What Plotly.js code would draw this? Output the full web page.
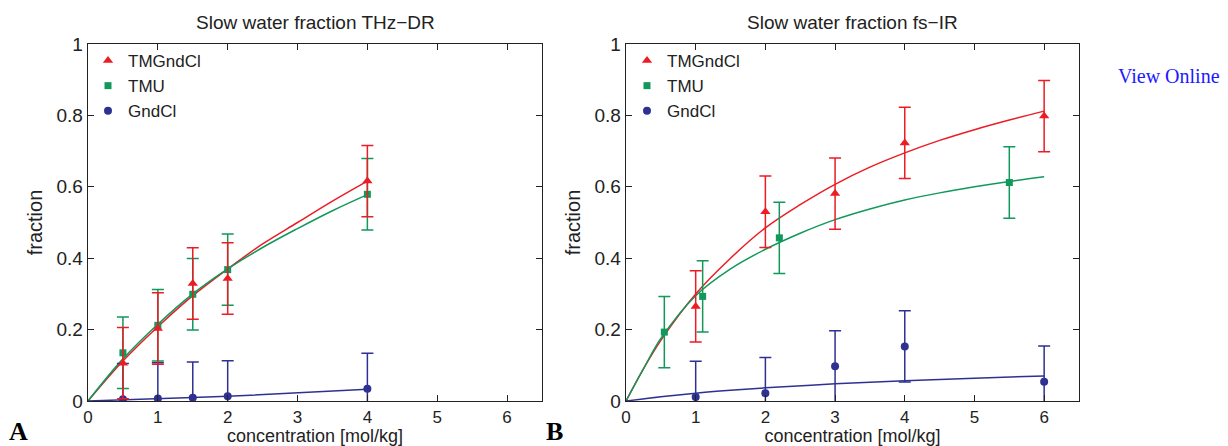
<!DOCTYPE html>
<html>
<head>
<meta charset="utf-8">
<script src="https://cdn.plot.ly/plotly-3.0.1.min.js"></script>
<style>html,body{margin:0;padding:0;background:#fff;}#chart{width:1228px;height:446px;}</style>
</head>
<body>
<div id="chart"></div>
<script>
// ---- Data: panel A (THz-DR) ----
const thzX = [0.5, 1, 1.5, 2, 4];
const thzTMGndCl = [0.106, 0.203, 0.329, 0.343, 0.616];
const thzTMGndClErr = [0.1, 0.1, 0.1, 0.1, 0.1];
const thzTMU = [0.135, 0.212, 0.299, 0.368, 0.579];
const thzTMUErr = [0.1, 0.1, 0.1, 0.1, 0.1];
const thzGndCl = [0.005, 0.007, 0.009, 0.013, 0.034];
const thzGndClErr = [0.1, 0.1, 0.1, 0.1, 0.1];

const thzFitX = [0, 0.5, 1, 1.5, 2, 2.5, 3, 3.5, 4];
const thzFitTMGndCl = [0, 0.112, 0.208, 0.295, 0.370, 0.440, 0.500, 0.560, 0.616];
const thzFitTMU = [0, 0.118, 0.215, 0.300, 0.370, 0.430, 0.483, 0.533, 0.578];
const thzFitGndClX = [0, 0.5, 1, 1.5, 2, 4];
const thzFitGndCl = [0, 0.004, 0.007, 0.010, 0.013, 0.033];

// ---- Data: panel B (fs-IR) ----
const irTMGndClX = [1, 2, 3, 4, 6];
const irTMGndCl = [0.265, 0.530, 0.581, 0.723, 0.798];
const irTMGndClErr = [0.1, 0.1, 0.1, 0.1, 0.1];
const irTMUX = [0.55, 1.1, 2.2, 5.5];
const irTMU = [0.193, 0.293, 0.457, 0.612];
const irTMUErr = [0.1, 0.1, 0.1, 0.1];
const irGndClX = [1, 2, 3, 4, 6];
const irGndCl = [0.011, 0.022, 0.097, 0.153, 0.054];
const irGndClErr = [0.1, 0.1, 0.1, 0.1, 0.1];

const irFitX = [0, 0.25, 0.5, 1, 1.5, 2, 2.5, 3, 3.5, 4, 4.5, 5, 5.5, 6];
const irFitTMGndCl = [0, 0.09, 0.17, 0.30, 0.40, 0.485, 0.55, 0.607, 0.655, 0.695, 0.73, 0.76, 0.787, 0.812];
const irFitTMU = [0, 0.09, 0.175, 0.295, 0.37, 0.425, 0.47, 0.508, 0.538, 0.563, 0.583, 0.60, 0.615, 0.628];
const irFitGndClX = [0, 0.5, 1, 1.5, 2, 3, 4, 5, 6];
const irFitGndCl = [0, 0.012, 0.022, 0.030, 0.037, 0.048, 0.057, 0.064, 0.070];

const seriesNames = ['TMGndCl', 'TMU', 'GndCl'];
const xTicks = [0, 1, 2, 3, 4, 5, 6];
const yTicks = [0, 0.2, 0.4, 0.6, 0.8, 1];
const yTickText = ['0', '0.2', '0.4', '0.6', '0.8', '1'];

const RED = '#ec1c24', GREEN = '#12985a', BLUE = '#2e3192';
const FONT = 'Liberation Sans, Arial, sans-serif';

function fit(x, y, color, xa, ya, shape) {
  return {x: x, y: y, mode: 'lines', type: 'scatter', xaxis: xa, yaxis: ya,
    line: {color: color, width: 1.5, shape: shape || 'spline'}, showlegend: false, hoverinfo: 'skip'};
}
function pts(x, y, err, color, symbol, size, name, xa, ya, legend) {
  return {x: x, y: y, mode: 'markers', type: 'scatter', xaxis: xa, yaxis: ya, name: name, legend: legend,
    marker: {color: color, symbol: symbol, size: size},
    error_y: {type: 'data', array: err, visible: true, color: color, thickness: 1.5, width: 6}};
}

const traces = [
  fit(thzFitX, thzFitTMGndCl, RED, 'x', 'y'),
  fit(thzFitX, thzFitTMU, GREEN, 'x', 'y'),
  fit(thzFitGndClX, thzFitGndCl, BLUE, 'x', 'y', 'linear'),
  pts(thzX, thzGndCl, thzGndClErr, BLUE, 'circle', 8, seriesNames[2], 'x', 'y', 'legend'),
  pts(thzX, thzTMU, thzTMUErr, GREEN, 'square', 7, seriesNames[1], 'x', 'y', 'legend'),
  pts(thzX, thzTMGndCl, thzTMGndClErr, RED, 'triangle-up', 9, seriesNames[0], 'x', 'y', 'legend'),

  fit(irFitX, irFitTMGndCl, RED, 'x2', 'y2'),
  fit(irFitX, irFitTMU, GREEN, 'x2', 'y2'),
  fit(irFitGndClX, irFitGndCl, BLUE, 'x2', 'y2'),
  pts(irGndClX, irGndCl, irGndClErr, BLUE, 'circle', 8, seriesNames[2], 'x2', 'y2', 'legend2'),
  pts(irTMUX, irTMU, irTMUErr, GREEN, 'square', 7, seriesNames[1], 'x2', 'y2', 'legend2'),
  pts(irTMGndClX, irTMGndCl, irTMGndClErr, RED, 'triangle-up', 9, seriesNames[0], 'x2', 'y2', 'legend2')
];

function xax(domain, anchor) {
  return {domain: domain, anchor: anchor, range: [0, 6.5], tickvals: xTicks, ticks: 'inside', ticklen: 6,
    tickcolor: '#222', showline: true, linecolor: '#222', linewidth: 1.3, mirror: 'ticks', showgrid: false,
    zeroline: false, tickfont: {family: FONT, size: 17, color: '#222'},
    title: {text: 'concentration [mol/kg]', font: {family: FONT, size: 18, color: '#222'}, standoff: 4}};
}
function yax(domain, anchor) {
  return {domain: domain, anchor: anchor, range: [0, 1], tickvals: yTicks, ticktext: yTickText, ticks: 'inside',
    ticklen: 6, tickcolor: '#222', showline: true, linecolor: '#222', linewidth: 1.3, mirror: 'ticks',
    showgrid: false, zeroline: false, tickfont: {family: FONT, size: 19, color: '#222'},
    title: {text: 'fraction', font: {family: FONT, size: 20, color: '#222'}, standoff: 8}};
}

const yDom = [45 / 446, 402 / 446];
const layout = {
  width: 1228, height: 446,
  margin: {l: 0, r: 0, t: 0, b: 0},
  paper_bgcolor: '#fff', plot_bgcolor: '#fff',
  font: {family: FONT, color: '#222'},
  xaxis: xax([88 / 1228, 542 / 1228], 'y'),
  yaxis: yax(yDom, 'x'),
  xaxis2: xax([626 / 1228, 1079 / 1228], 'y2'),
  yaxis2: yax(yDom, 'x2'),
  legend: {x: 88 / 1228, y: 1 - 43 / 446, xanchor: 'left', yanchor: 'top', bgcolor: 'rgba(0,0,0,0)',
    traceorder: 'reversed', font: {family: FONT, size: 17, color: '#222'}, itemwidth: 30, tracegroupgap: 0},
  legend2: {x: 627 / 1228, y: 1 - 43 / 446, xanchor: 'left', yanchor: 'top', bgcolor: 'rgba(0,0,0,0)',
    traceorder: 'reversed', font: {family: FONT, size: 17, color: '#222'}, itemwidth: 30, tracegroupgap: 0},
  annotations: [
    {text: 'Slow water fraction THz\u2212DR', x: 315 / 1228, y: 1 - 22 / 446, xref: 'paper', yref: 'paper',
      xanchor: 'center', yanchor: 'middle', showarrow: false, font: {family: FONT, size: 19, color: '#222'}},
    {text: 'Slow water fraction fs\u2212IR', x: 852 / 1228, y: 1 - 22 / 446, xref: 'paper', yref: 'paper',
      xanchor: 'center', yanchor: 'middle', showarrow: false, font: {family: FONT, size: 19, color: '#222'}},
    {text: '<b>A</b>', x: 7 / 1228, y: 1 - 431 / 446, xref: 'paper', yref: 'paper', xanchor: 'left', yanchor: 'middle',
      showarrow: false, font: {family: 'Liberation Serif, serif', size: 26, color: '#000'}},
    {text: '<b>B</b>', x: 544 / 1228, y: 1 - 431 / 446, xref: 'paper', yref: 'paper', xanchor: 'left', yanchor: 'middle',
      showarrow: false, font: {family: 'Liberation Serif, serif', size: 26, color: '#000'}},
    {text: 'View Online', x: 1116 / 1228, y: 1 - 76 / 446, xref: 'paper', yref: 'paper', xanchor: 'left', yanchor: 'middle',
      showarrow: false, font: {family: 'Liberation Serif, serif', size: 20, color: '#1a1aff'}}
  ]
};

Plotly.newPlot('chart', traces, layout, {displayModeBar: false, staticPlot: true});
</script>
</body>
</html>
